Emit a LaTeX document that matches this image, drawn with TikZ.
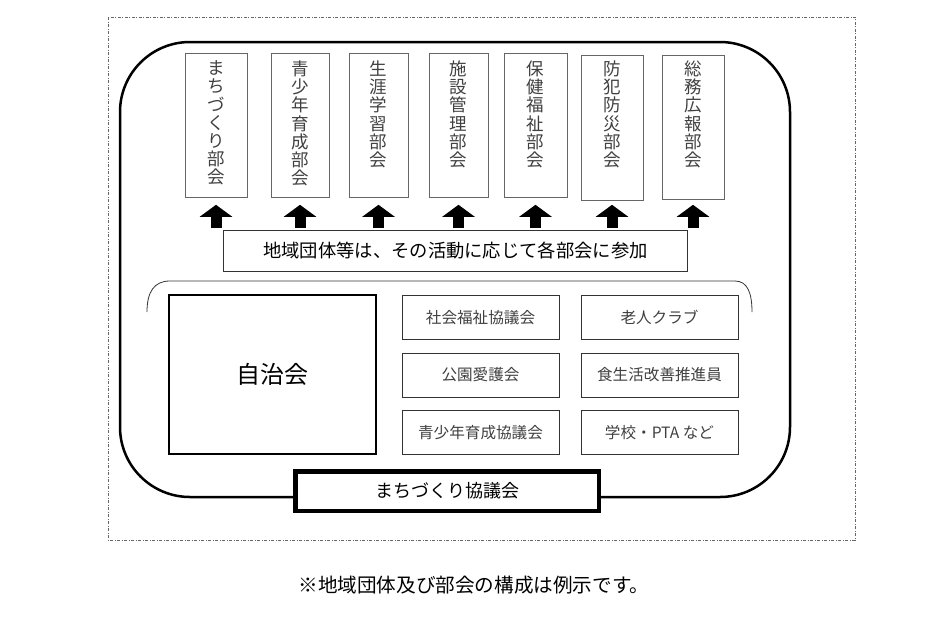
\documentclass[tikz,border=0pt]{standalone}
\usepackage{fontspec}
\setmainfont{Noto Sans CJK JP}
\usetikzlibrary{arrows.meta,calc}
\begin{document}
\begin{tikzpicture}[x=1pt,y=-1pt,
  vbox/.style={draw=black!60, line width=0.8pt, inner sep=0pt, minimum height=144pt},
  vtext/.style={anchor=north, inner sep=0pt, align=center, text=black!75, font=\fontsize{17.5}{18.2}\selectfont},
  sbox/.style={draw=black!80, line width=1pt, inner sep=0pt, minimum width=157pt, minimum height=44pt, text=black!75, font=\fontsize{15.6}{18}\selectfont},
  uparrow/.style={line width=11pt, -{Triangle[width=32pt,length=12pt]}},
  frame/.style={draw=black!60, line width=0.6pt, dash pattern=on 3pt off 1.5pt on 1pt off 1.5pt}
]
\useasboundingbox (0,0) rectangle (947,616);
% outer dash-dot frame
\draw[frame] (108,17) rectangle (855,540);
% big rounded enclosure
\draw[line width=2.5pt, rounded corners=70pt] (120,42) rectangle (790,497);
% committee boxes
\node[vbox, minimum width=62pt] (b1) at (216,125) {};
\node[vbox, minimum width=58pt] (b2) at (300,125) {};
\node[vbox, minimum width=59pt] (b3) at (378.5,125) {};
\node[vbox, minimum width=59pt] (b4) at (458.5,125) {};
\node[vbox, minimum width=63pt] (b5) at (535.5,125) {};
\node[vbox, minimum width=62pt, minimum height=145pt] (b6) at (612,127.5) {};
\node[vbox, minimum width=62pt] (b7) at (693,127) {};
\node[vtext] (t1) at ($(b1.north)+(0,8)$) {ま\\ち\\づ\\く\\り\\部\\会};
\node[vtext] (t2) at ($(b2.north)+(0,8)$) {青\\少\\年\\育\\成\\部\\会};
\node[vtext] (t3) at ($(b3.north)+(0,8)$) {生\\涯\\学\\習\\部\\会};
\node[vtext] (t4) at ($(b4.north)+(0,8)$) {施\\設\\管\\理\\部\\会};
\node[vtext] (t5) at ($(b5.north)+(0,8)$) {保\\健\\福\\祉\\部\\会};
\node[vtext] (t6) at ($(b6.north)+(0,6)$) {防\\犯\\防\\災\\部\\会};
\node[vtext] (t7) at ($(b7.north)+(0,6)$) {総\\務\\広\\報\\部\\会};
% banner
\node[draw=black!80, line width=1.4pt, minimum width=464pt, minimum height=41pt, inner sep=0pt,
      font=\fontsize{18.3}{20}\selectfont] (banner) at (455.5,251) {地域団体等は、その活動に応じて各部会に参加};
% block arrows
\foreach \b in {b1,b2,b3,b4,b5,b6,b7}{
  \draw[uparrow] ($(banner.north -| \b.south)+(0,-1.5)$) -- ($(banner.north -| \b.south)+(0,-25)$);
}
% bracket
\draw[line width=0.8pt, draw=black!80] (147,312) .. controls (147,292) and (154,281) .. (170,281) -- (735,281)
   .. controls (748,281) and (752,294) .. (752,312);
% 自治会
\node[draw, line width=2.2pt, minimum width=207pt, minimum height=159pt, inner sep=0pt,
      font=\fontsize{24}{26}\selectfont] (jichi) at (272.5,374.5) {自治会};
% small boxes
\node[sbox] (s1) at (480.5,317.5) {社会福祉協議会};
\node[sbox] (s2) at (480.5,375) {公園愛護会};
\node[sbox] (s3) at (480.5,432.5) {青少年育成協議会};
\node[sbox] (s4) at (659.5,317.5) {老人クラブ};
\node[sbox] (s5) at (659.5,375) {食生活改善推進員};
\node[sbox] (s6) at (659.5,432.5) {学校・PTA など};
% まちづくり協議会
\node[draw, fill=white, line width=4.5pt, minimum width=303.5pt, minimum height=39.5pt, inner sep=0pt,
      font=\fontsize{18}{20}\selectfont] (kyogi) at (447,491) {まちづくり協議会};
% footnote
\node[font=\fontsize{19.6}{21}\selectfont, inner sep=0pt] (note) at (474,585) {※地域団体及び部会の構成は例示です。};
\end{tikzpicture}
\end{document}
